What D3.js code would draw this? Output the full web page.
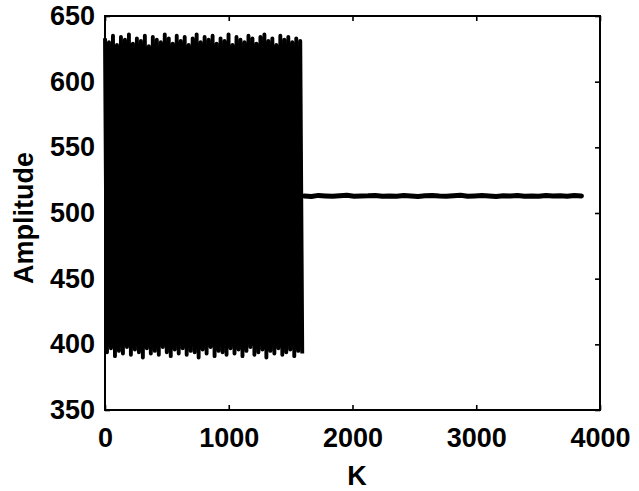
<!DOCTYPE html>
<html>
<head>
<meta charset="utf-8">
<script src="https://cdn.jsdelivr.net/npm/d3@7"></script>
<style>
  body { margin: 0; background: #fff; }
  text { font-family: "Liberation Sans", Arial, sans-serif; }
</style>
</head>
<body>
<svg id="chart" width="639" height="491"></svg>
<script>
// Oscillating part (K = 0 .. 1610): one peak and one trough per cycle
const peaks = [633, 630, 635, 628, 634, 632, 636, 629, 633, 631, 635, 627, 634, 632, 630, 636, 633, 629, 635, 631,
               634, 628, 633, 636, 630, 634, 632, 635, 629, 633, 631, 636, 628, 634, 632, 630, 635, 633, 629, 634,
               636, 631, 633, 628, 635, 632, 634, 630, 633, 631];
const troughs = [394, 397, 391, 395, 393, 398, 392, 396, 394, 390, 397, 393, 395, 392, 398, 394, 391, 396, 393, 397,
                 392, 395, 394, 390, 396, 393, 398, 391, 395, 394, 392, 397, 393, 396, 391, 395, 398, 392, 394, 396,
                 390, 395, 393, 397, 392, 394, 396, 391, 395, 393];
const oscStart = 0, oscEnd = 1610;

// Settled part (K = 1610 .. 3850)
const settled = [513, 512.6, 513.4, 513, 512.7, 513.2, 513.5, 512.8, 513, 513.1, 513.4, 512.7, 513, 512.8, 513.3, 513,
                 512.6, 513.1, 513.4, 513, 512.8, 513.2, 513.5, 512.7, 513, 513.3, 513, 512.6, 513.1, 513, 513.4, 512.8,
                 513, 512.7, 513.3, 513, 513.1, 512.8, 513.3, 513];
const settledStart = 1610, settledEnd = 3850;

const xTicks = [0, 1000, 2000, 3000, 4000];
const yTicks = [350, 400, 450, 500, 550, 600, 650];

// build (K, value) series
let oscData = [];
let cycle = (oscEnd - oscStart) / peaks.length;
peaks.forEach((p, i) => {
    oscData.push([oscStart + i * cycle, p]);
    oscData.push([oscStart + i * cycle + cycle / 2, troughs[i]]);
});
let settledData = settled.map((v, i) => [settledStart + i * (settledEnd - settledStart) / (settled.length - 1), v]);

const svg = d3.select("#chart");
const plotLeft = 105, plotRight = 600, plotTop = 16, plotBottom = 410;

let x = d3.scaleLinear().domain([0, 4000]).range([plotLeft, plotRight]);
let y = d3.scaleLinear().domain([350, 650]).range([plotBottom, plotTop]);

let line = d3.line().x(d => x(d[0])).y(d => y(d[1]));

svg.append("path")
    .datum(oscData)
    .attr("d", line)
    .attr("fill", "none")
    .attr("stroke", "#000")
    .attr("stroke-width", 3.9)
    .attr("stroke-linejoin", "round");

svg.append("path")
    .datum(settledData)
    .attr("d", line)
    .attr("fill", "none")
    .attr("stroke", "#000")
    .attr("stroke-width", 5)
    .attr("stroke-linecap", "round")
    .attr("stroke-linejoin", "round");

// axes, ticks pointing inward on all four sides
let fontSize = 27;

let gx = svg.append("g")
    .attr("transform", `translate(0,${plotBottom})`)
    .call(d3.axisBottom(x).tickValues(xTicks).tickFormat(d3.format("d"))
        .tickSizeInner(-5).tickSizeOuter(0).tickPadding(18));
let gy = svg.append("g")
    .attr("transform", `translate(${plotLeft},0)`)
    .call(d3.axisLeft(y).tickValues(yTicks).tickFormat(d3.format("d"))
        .tickSizeInner(-5).tickSizeOuter(0).tickPadding(10));
svg.append("g")
    .attr("transform", `translate(0,${plotTop})`)
    .call(d3.axisTop(x).tickValues(xTicks).tickSizeInner(-5).tickSizeOuter(0).tickFormat(""));
svg.append("g")
    .attr("transform", `translate(${plotRight},0)`)
    .call(d3.axisRight(y).tickValues(yTicks).tickSizeInner(-5).tickSizeOuter(0).tickFormat(""));

svg.selectAll(".domain").remove();
svg.selectAll(".tick line").attr("stroke", "#000").attr("stroke-width", 1.6);
[gx, gy].forEach(g => g.selectAll("text")
    .attr("fill", "#000")
    .style("font-size", fontSize + "px")
    .style("font-weight", "bold"));

svg.append("rect")
    .attr("x", plotLeft).attr("y", plotTop)
    .attr("width", plotRight - plotLeft).attr("height", plotBottom - plotTop)
    .attr("fill", "none")
    .attr("stroke", "#000")
    .attr("stroke-width", 2);

svg.append("text")
    .attr("x", 357).attr("y", 485)
    .attr("text-anchor", "middle")
    .style("font-size", fontSize + "px")
    .style("font-weight", "bold")
    .text("K");

svg.append("text")
    .attr("transform", "translate(33,218) rotate(-90)")
    .attr("text-anchor", "middle")
    .style("font-size", fontSize + "px")
    .style("font-weight", "bold")
    .text("Amplitude");
</script>
</body>
</html>
